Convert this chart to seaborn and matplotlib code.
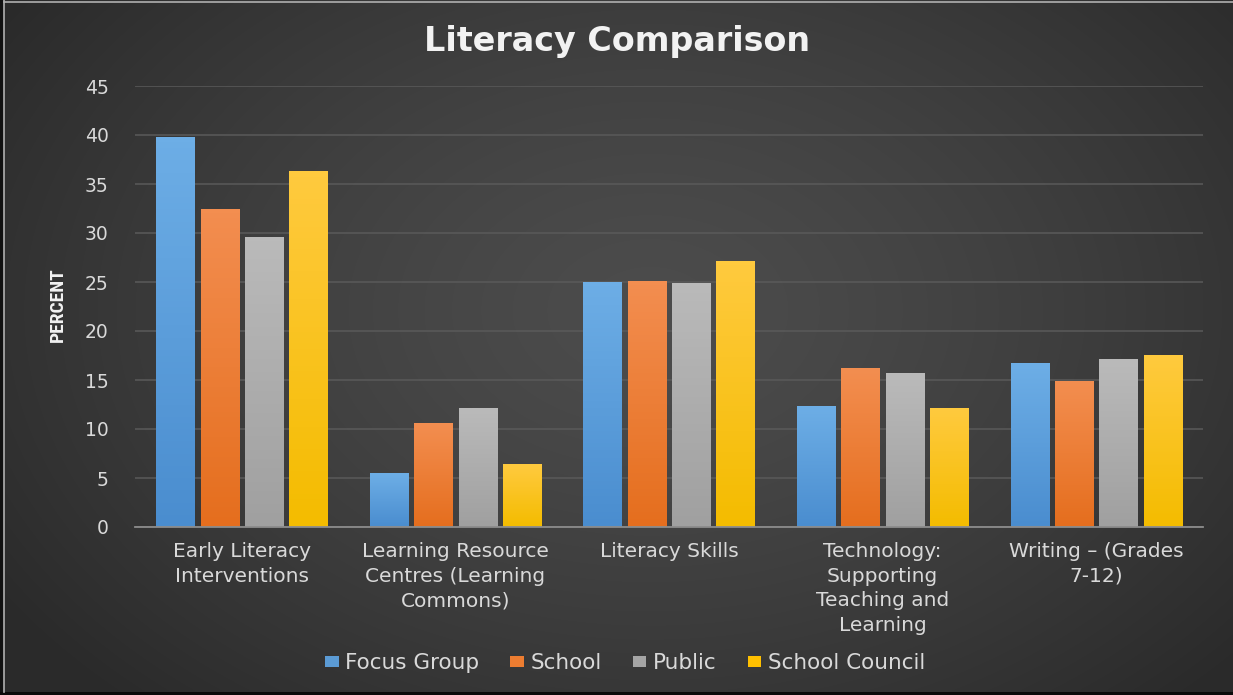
import numpy as np
import pandas as pd
import matplotlib
matplotlib.use("Agg")
import matplotlib.pyplot as plt
import matplotlib.colors as mcolors
from matplotlib import font_manager
from matplotlib.lines import Line2D
from matplotlib.patches import Rectangle
import seaborn as sns

# ---- data -------------------------------------------------------------
categories = [
    "Early Literacy\nInterventions",
    "Learning Resource\nCentres (Learning\nCommons)",
    "Literacy Skills",
    "Technology:\nSupporting\nTeaching and\nLearning",
    "Writing \u2013 (Grades\n7-12)",
]
series = ["Focus Group", "School", "Public", "School Council"]
focus_group = [39.8, 5.5, 25.0, 12.3, 16.7]
school = [32.5, 10.6, 25.1, 16.2, 14.9]
public = [29.6, 12.1, 24.9, 15.7, 17.1]
school_council = [36.3, 6.4, 27.1, 12.1, 17.6]
y_ticks = [0, 5, 10, 15, 20, 25, 30, 35, 40, 45]

colors = ["#5B9BD5", "#ED7D31", "#A5A5A5", "#FFC000"]
top_colors = ["#6DAEE6", "#F38E50", "#BABABA", "#FFCA3E"]
bot_colors = ["#4A8DCF", "#E56E1E", "#A0A0A0", "#F4BC00"]

df = pd.DataFrame({
    "category": categories * 4,
    "series": sum([[s] * len(categories) for s in series], []),
    "value": focus_group + school + public + school_council,
})

installed = {f.name for f in font_manager.fontManager.ttflist}
font = "DejaVu Sans"
narrow = next((n for n in ["Liberation Sans Narrow", "Roboto Condensed",
                           "Open Sans Condensed", "Liberation Sans"] if n in installed),
              "DejaVu Sans")

W, H = 1233, 695
fig = plt.figure(figsize=(W / 100, H / 100), dpi=100)
fig.patch.set_facecolor("#2b2b2b")

# ---- background: soft radial shading -----------------------------------
bg = fig.add_axes([0, 0, 1, 1], zorder=-10)
yy, xx = np.mgrid[0:H, 0:W]
r = np.sqrt(((xx - 650) / 780.0) ** 2 + ((yy - 310) / 540.0) ** 2)
shade = 76 - 34 * np.clip(r, 0, 1) ** 1.4
img = np.dstack([shade, shade, shade]) / 255.0
bg.imshow(img, extent=[0, 1, 0, 1], aspect="auto", origin="upper")
bg.set_xlim(0, 1)
bg.set_ylim(0, 1)
bg.set_axis_off()
# thin frame: dark outer edge, light line on top and left, dark strip at bottom
bg.add_patch(Rectangle((0, 0), 3.5 / W, 1, facecolor="#111111", edgecolor="none"))
bg.add_patch(Rectangle((0, 0), 1, 3.5 / H, facecolor="#0a0a0a", edgecolor="none"))
bg.add_line(Line2D([4 / W, 4 / W], [3.5 / H, 1], color="#b0b0b0", linewidth=1.2))
bg.add_line(Line2D([4 / W, 1], [1 - 1.5 / H, 1 - 1.5 / H], color="#b0b0b0", linewidth=1.2))

# ---- main axes ---------------------------------------------------------
ax = fig.add_axes([135 / W, (H - 527) / H, 1068 / W, 441 / H])
ax.set_facecolor("none")

sns.barplot(data=df, x="category", y="value", hue="series", hue_order=series,
            palette=colors, width=0.83, gap=0.14, ax=ax, errorbar=None,
            saturation=1, linewidth=0, legend=True)

ax.set_ylim(0, 45)
ax.set_xlim(-0.5, 4.5)
ax.set_autoscale_on(False)
ax.set_yticks(y_ticks)
ax.set_yticklabels([str(t) for t in y_ticks])

# vertical gradient fill clipped to each bar
grad = np.linspace(0, 1, 64).reshape(-1, 1)
for i, cont in enumerate(ax.containers):
    cmap = mcolors.LinearSegmentedColormap.from_list(
        f"g{i}", [top_colors[i], bot_colors[i]])
    for bar in cont:
        x0, w, h = bar.get_x(), bar.get_width(), bar.get_height()
        im = ax.imshow(grad, cmap=cmap, extent=[x0, x0 + w, 0, h],
                       aspect="auto", origin="upper", zorder=bar.get_zorder() + 0.1)
        im.set_clip_path(bar)

ax.grid(axis="y", color="#5a5a5a", linewidth=1.1)
ax.grid(axis="x", visible=False)
ax.set_axisbelow(True)
for s in ["top", "right", "left"]:
    ax.spines[s].set_visible(False)
ax.spines["bottom"].set_color("#8c8c8c")
ax.spines["bottom"].set_linewidth(1.3)
ax.tick_params(axis="both", length=0, colors="#d9d9d9")
ax.tick_params(axis="y", pad=19)
ax.tick_params(axis="x", pad=11)

for lab in ax.get_yticklabels():
    lab.set_fontfamily(font)
    lab.set_fontsize(13.5)
    lab.set_horizontalalignment("right")
for lab in ax.get_xticklabels():
    lab.set_fontfamily(font)
    lab.set_fontsize(14.5)
    lab.set_linespacing(1.37)
    lab.set_verticalalignment("top")

ax.set_xlabel("")
ax.set_ylabel("PERCENT", fontsize=14, color="#f2f2f2", family=narrow,
              fontweight="bold", labelpad=0)
ax.yaxis.set_label_coords(-(135 - 67) / 1068, (527 - 305) / 441)

handles, labels = ax.get_legend_handles_labels()
ax.get_legend().remove()
fig.legend(handles, labels, loc="center", bbox_to_anchor=(625 / W, 1 - 663 / H),
           ncol=4, frameon=False, handlelength=0.63, handleheight=0.45,
           handletextpad=0.3, columnspacing=1.45,
           prop={"family": font, "size": 15.5}, labelcolor="#d9d9d9")

fig.text(617 / W, 1 - 42 / H, "Literacy Comparison", ha="center", va="center",
         fontsize=24, fontweight="bold", family=font, color="#f2f2f2")

fig.savefig("out.png", dpi=100, facecolor=fig.get_facecolor())
